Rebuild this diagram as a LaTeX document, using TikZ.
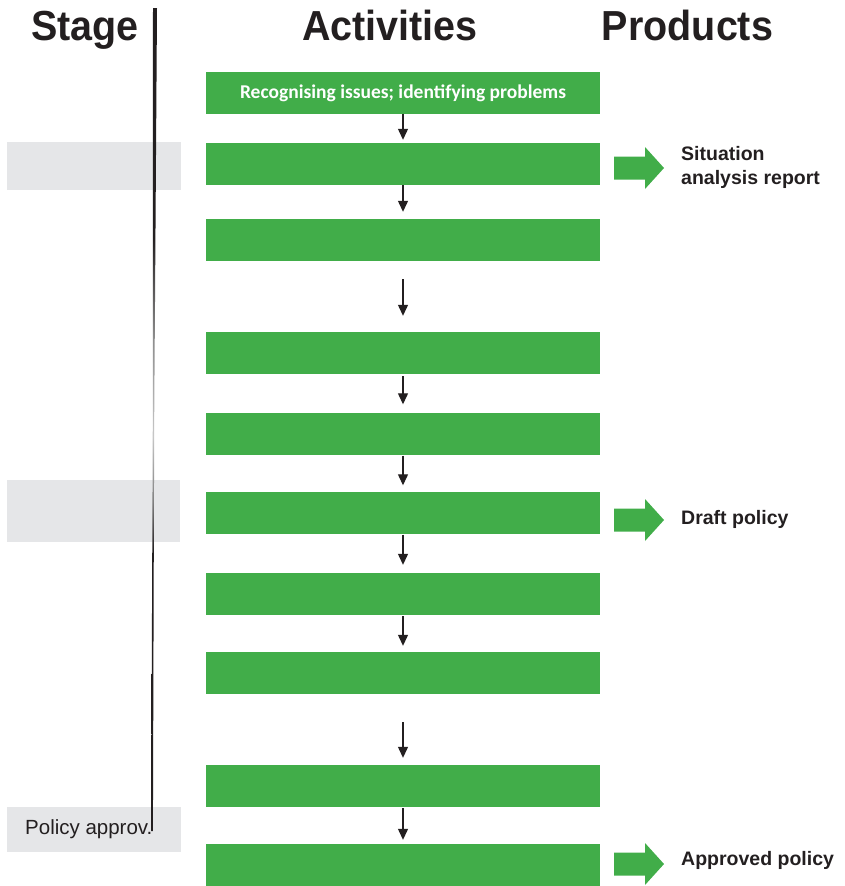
\documentclass[tikz,border=0pt]{standalone}
\usepackage{fontspec}
\setmainfont{Liberation Sans}
\newfontfamily\boxfont{Carlito}
\usetikzlibrary{arrows.meta}

\definecolor{actgreen}{RGB}{65,173,73}
\definecolor{stagegray}{RGB}{229,230,232}
\definecolor{inkdark}{RGB}{35,31,32}

% divider between the stage column and the activities: dark, fading out around the middle
\pgfdeclareverticalshading{stageline}{100bp}{%
  color(0bp)=(inkdark); color(25bp)=(inkdark); color(42bp)=(inkdark);
  color(45bp)=(black!50); color(49bp)=(black!22); color(55bp)=(black!45);
  color(61bp)=(inkdark); color(100bp)=(inkdark)}

\tikzset{
  heading/.style={font=\fontsize{42}{42}\selectfont\bfseries, text=inkdark, inner sep=0pt, anchor=base},
  activity/.style={fill=actgreen, minimum width=394pt, minimum height=42pt, inner sep=0pt,
    text=white, font=\boxfont\bfseries\fontsize{19.5}{22}\selectfont},
  stagebox/.style={fill=stagegray},
  stagetext/.style={font=\fontsize{20.5}{24}\selectfont, text=inkdark, inner sep=0pt, anchor=west},
  flow/.style={-{Triangle[width=10pt,length=11pt]}, line width=1.2pt, draw=inkdark},
  product/.style={font=\fontsize{19.5}{24}\selectfont\bfseries, text=inkdark, inner sep=0pt,
    anchor=west, align=left},
  productarrow/.pic={\fill[actgreen] (0,-11.5) -- (31,-11.5) -- (31,-21) -- (50,0)
    -- (31,21) -- (31,11.5) -- (0,11.5) -- cycle;}
}

\begin{document}
\begin{tikzpicture}[x=1pt,y=-1pt]
\useasboundingbox (0,0) rectangle (845,886);

% column headings
\node[heading] (hstage) at (85,40) {\scalebox{0.94}[1]{Stage}};
\node[heading] (hact) at (390,40) {\scalebox{0.94}[1]{Activities}};
\node[heading] (hprod) at (687.5,40) {\scalebox{0.94}[1]{Products}};

% stage markers
\fill[stagebox] (7,142) rectangle (181,190);
\fill[stagebox] (7,480) rectangle (180,542);
\fill[stagebox] (7,807) rectangle (181,852);
\node[stagetext] (s3) at (25,829) {Policy approv.};

% divider
\shade[shading=stageline] (153,8) -- (157,8) -- (154.2,419) -- (152.9,831)
  -- (151.1,831) -- (152.8,419) -- cycle;

% activities
\node[activity] (a1) at (403,92.5) {\smash{\raisebox{-6pt}{Recognising issues; identifying problems}}};
\node[activity] (a2) at (403,164) {};
\node[activity] (a3) at (403,240) {};
\node[activity] (a4) at (403,353) {};
\node[activity] (a5) at (403,433.5) {};
\node[activity] (a6) at (403,512.5) {};
\node[activity] (a7) at (403,594) {};
\node[activity] (a8) at (403,673) {};
\node[activity] (a9) at (403,786) {};
\node[activity] (a10) at (403,865) {};

% flow between activities
\draw[flow, shorten <=0pt, shorten >=3pt] (a1.south) -- (a2.north);
\draw[flow, shorten <=0pt, shorten >=7pt] (a2.south) -- (a3.north);
\draw[flow, shorten <=18pt, shorten >=16pt] (a3.south) -- (a4.north);
\draw[flow, shorten <=2pt, shorten >=8pt] (a4.south) -- (a5.north);
\draw[flow, shorten <=1pt, shorten >=6pt] (a5.south) -- (a6.north);
\draw[flow, shorten <=1pt, shorten >=8pt] (a6.south) -- (a7.north);
\draw[flow, shorten <=1pt, shorten >=6pt] (a7.south) -- (a8.north);
\draw[flow, shorten <=28pt, shorten >=7pt] (a8.south) -- (a9.north);
\draw[flow, shorten <=1pt, shorten >=4pt] (a9.south) -- (a10.north);

% products
\pic at (614,168) {productarrow};
\pic at (614,520) {productarrow};
\pic at (614,864) {productarrow};
\node[product] (p1) at (681,167) {Situation\\analysis report};
\node[product] (p2) at (681,519) {Draft policy};
\node[product] (p3) at (681,860) {Approved policy};
\end{tikzpicture}
\end{document}
